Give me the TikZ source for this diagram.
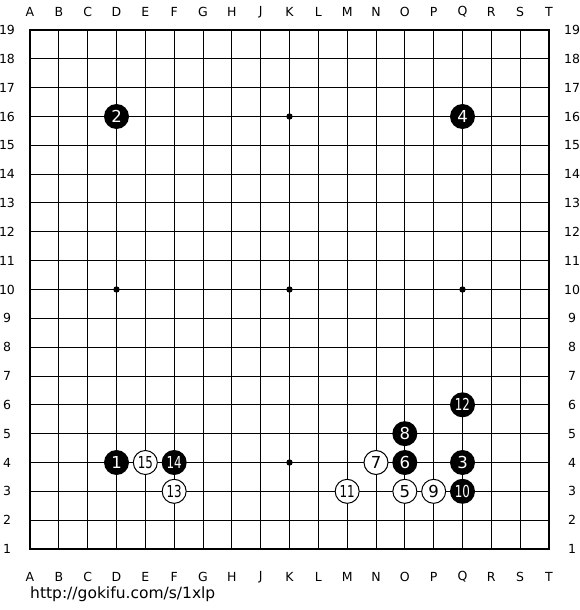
\documentclass[tikz,border=0pt]{standalone}
\usepackage{fontspec}
\setmainfont{DejaVu Sans}
\begin{document}
\begin{tikzpicture}[x=1pt,y=-1pt,
  lbl/.style={font=\fontsize{12.5}{12.5}\selectfont, inner sep=0pt},
  bstone/.style={circle, fill=black, minimum size=25pt, inner sep=0pt, text=white, font=\fontsize{16.5}{16.5}\selectfont},
  wstone/.style={circle, draw=black, line width=1pt, fill=white, minimum size=24pt, inner sep=0pt, text=black, font=\fontsize{16.5}{16.5}\selectfont}
]
\useasboundingbox (0,0) rectangle (580,610);
\fill[white] (0,0) rectangle (580,610);
\def\s{28.833}
% grid
\foreach \i in {1,...,17} {
  \draw[line width=1pt] ({30+\i*\s},30) -- ({30+\i*\s},549);
  \draw[line width=1pt] (30,{30+\i*\s}) -- (549,{30+\i*\s});
}
\draw[line width=2pt] (30,30) rectangle (549,549);
% star points
\foreach \c in {3,9,15} \foreach \r in {3,9,15}
  \fill ({30+\c*\s},{30+\r*\s}) circle (3.2pt);
% coordinates labels
\foreach \l [count=\i from 0] in {A,B,C,D,E,F,G,H,J,K,L,M,N,O,P,Q,R,S,T} {
  \node[lbl] (top\l) at ({30+\i*\s},12) {\l};
  \node[lbl] (bot\l) at ({30+\i*\s},577) {\l};
}
\foreach \r in {1,...,19} {
  \node[lbl] (lft\r) at (7,{30+(19-\r)*\s}) {\r};
  \node[lbl] (rgt\r) at (572,{30+(19-\r)*\s}) {\r};
}
% stones: column index (A=0), row
\newcommand{\pos}[2]{({30+#1*\s},{30+(19-#2)*\s})}
\newcommand{\tw}[1]{\scalebox{0.72}[1]{#1}}
\node[bstone] (m1) at \pos{3}{4} {1};
\node[bstone] (m2) at \pos{3}{16} {2};
\node[bstone] (m3) at \pos{15}{4} {3};
\node[bstone] (m4) at \pos{15}{16} {4};
\node[wstone] (m5) at \pos{13}{3} {5};
\node[bstone] (m6) at \pos{13}{4} {6};
\node[wstone] (m7) at \pos{12}{4} {7};
\node[bstone] (m8) at \pos{13}{5} {8};
\node[wstone] (m9) at \pos{14}{3} {9};
\node[bstone] (m10) at \pos{15}{3} {\tw{10}};
\node[wstone] (m11) at \pos{11}{3} {\tw{11}};
\node[bstone] (m12) at \pos{15}{6} {\tw{12}};
\node[wstone] (m13) at \pos{5}{3} {\tw{13}};
\node[bstone] (m14) at \pos{5}{4} {\tw{14}};
\node[wstone] (m15) at \pos{4}{4} {\tw{15}};
% url
\node[anchor=base west, inner sep=0pt, font=\fontsize{15.5}{15.5}\selectfont] (url) at (30,598) {http://gokifu.com/s/1xlp};
\end{tikzpicture}
\end{document}
